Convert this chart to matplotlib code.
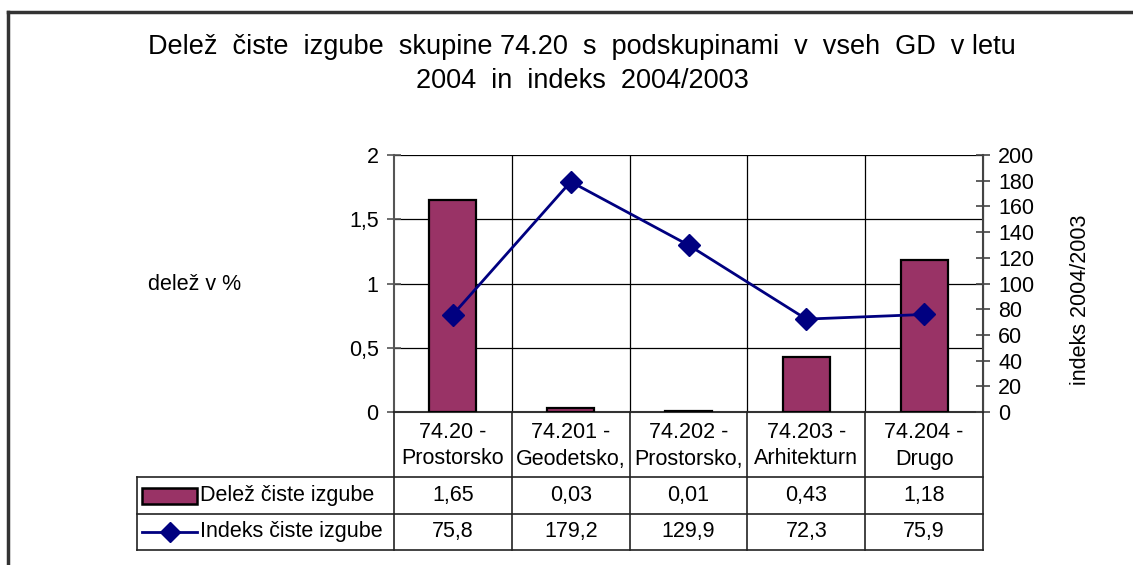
import matplotlib
matplotlib.use("Agg")
import matplotlib.pyplot as plt
from matplotlib.lines import Line2D
from matplotlib.patches import Rectangle

plt.rcParams['font.family'] = ['Liberation Sans', 'DejaVu Sans']

title = "Delež  čiste  izgube  skupine 74.20  s  podskupinami  v  vseh  GD  v letu\n2004  in  indeks  2004/2003"
cat_line1 = ["74.20 -", "74.201 -", "74.202 -", "74.203 -", "74.204 -"]
cat_line2 = ["Prostorsko", "Geodetsko,", "Prostorsko,", "Arhitekturn", "Drugo"]
share = [1.65, 0.03, 0.01, 0.43, 1.18]
index = [75.8, 179.2, 129.9, 72.3, 75.9]
share_labels = ["1,65", "0,03", "0,01", "0,43", "1,18"]
index_labels = ["75,8", "179,2", "129,9", "72,3", "75,9"]
left_ticks = [0, 0.5, 1, 1.5, 2]
left_tick_labels = ["0", "0,5", "1", "1,5", "2"]
right_ticks = list(range(0, 201, 20))
series_names = ["Delež čiste izgube", "Indeks čiste izgube"]

W, H = 1133, 565
fig = plt.figure(figsize=(W / 100, H / 100), dpi=100)
FS = 15.5

def fx(x):
    return x / W

def fy(y):
    return 1 - y / H

bar_color = "#993366"
line_color = "#000080"

# Outer chart border
fig.add_artist(Line2D([fx(8), fx(8)], [fy(12), fy(565)], color="#333333", lw=2.5, transform=fig.transFigure))
fig.add_artist(Line2D([fx(8), fx(1133)], [fy(12), fy(12)], color="#333333", lw=2.5, transform=fig.transFigure))

L, R, T, B = 394, 983, 155, 412
ax = fig.add_axes([fx(L), fy(B), fx(R - L), (B - T) / H])
n = len(share)
xs = list(range(n))
ax.set_xlim(-0.5, n - 0.5)
ax.set_ylim(0, 2)
ax.bar(xs, share, width=0.4, color=bar_color, edgecolor="black", linewidth=1.6, zorder=3)
ax.set_yticks(left_ticks)
ax.set_yticklabels(left_tick_labels, fontsize=FS)
ax.set_xticks([])
for v in left_ticks[1:]:
    ax.axhline(v, color="black", lw=0.9, zorder=1)
for b in range(1, n):
    ax.axvline(b - 0.5, color="black", lw=0.9, zorder=1)
ax.spines["top"].set_visible(False)
ax.spines["left"].set_color("#555555")
ax.spines["left"].set_linewidth(1.5)
ax.spines["bottom"].set_color("#333333")
ax.spines["bottom"].set_linewidth(1.5)
ax.tick_params(axis="y", direction="inout", length=10, width=1.2, pad=6, colors="#555555", labelcolor="black")

ax2 = ax.twinx()
ax2.set_ylim(0, 200)
ax2.set_yticks(right_ticks)
ax2.set_yticklabels([str(t) for t in right_ticks], fontsize=FS)
ax2.plot(xs, index, color=line_color, lw=2, marker="D", markersize=11, zorder=4)
ax2.spines["top"].set_visible(False)
ax2.spines["left"].set_visible(False)
ax2.spines["bottom"].set_visible(False)
ax2.spines["right"].set_color("#444444")
ax2.spines["right"].set_linewidth(1.5)
ax2.tick_params(axis="y", direction="inout", length=10, width=1.2, pad=6, colors="#444444", labelcolor="black")

# Axis titles
fig.text(fx(148), fy(284), "delež v %", fontsize=FS, ha="left", va="center")
fig.text(fx(1080), fy(300), "indeks 2004/2003", fontsize=FS, ha="center", va="center", rotation=90)

# Title
fig.text(fx(582), fy(64), title, fontsize=19.5, ha="center", va="center", linespacing=1.38)

# Data table
TL = 137
y_r1 = 477
y_r2 = 514
y_r3 = 550
col_w = (R - L) / n
lines = [
    ([TL, R], [y_r1, y_r1]),
    ([TL, R], [y_r2, y_r2]),
    ([TL, R], [y_r3, y_r3]),
    ([TL, TL], [y_r1, y_r3]),
    ([R, R], [B, y_r3]),
    ([L, L], [B, y_r3]),
]
for i in range(1, n):
    xb = L + i * col_w
    lines.append(([xb, xb], [B, y_r3]))
for xx, yy in lines:
    fig.add_artist(Line2D([fx(v) for v in xx], [fy(v) for v in yy], color="#222222", lw=1.2, transform=fig.transFigure))

for i in range(n):
    cx = L + (i + 0.5) * col_w
    fig.text(fx(cx), fy(433), cat_line1[i], fontsize=FS, ha="center", va="center")
    fig.text(fx(cx), fy(459), cat_line2[i], fontsize=FS, ha="center", va="center")
    fig.text(fx(cx), fy(496), share_labels[i], fontsize=FS, ha="center", va="center")
    fig.text(fx(cx), fy(532), index_labels[i], fontsize=FS, ha="center", va="center")

# Legend keys
fig.add_artist(Rectangle((fx(142), fy(504)), fx(55), (504 - 488) / H, facecolor=bar_color,
                         edgecolor="black", lw=1.8, transform=fig.transFigure))
fig.add_artist(Line2D([fx(142), fx(197)], [fy(532), fy(532)], color=line_color, lw=2,
                      transform=fig.transFigure))
fig.add_artist(Line2D([fx(169.5)], [fy(532)], color=line_color, lw=0, marker="D", markersize=10,
                      transform=fig.transFigure))
fig.text(fx(200), fy(496), series_names[0], fontsize=FS, ha="left", va="center")
fig.text(fx(200), fy(532), series_names[1], fontsize=FS, ha="left", va="center")

fig.savefig("out.png", dpi=100)
